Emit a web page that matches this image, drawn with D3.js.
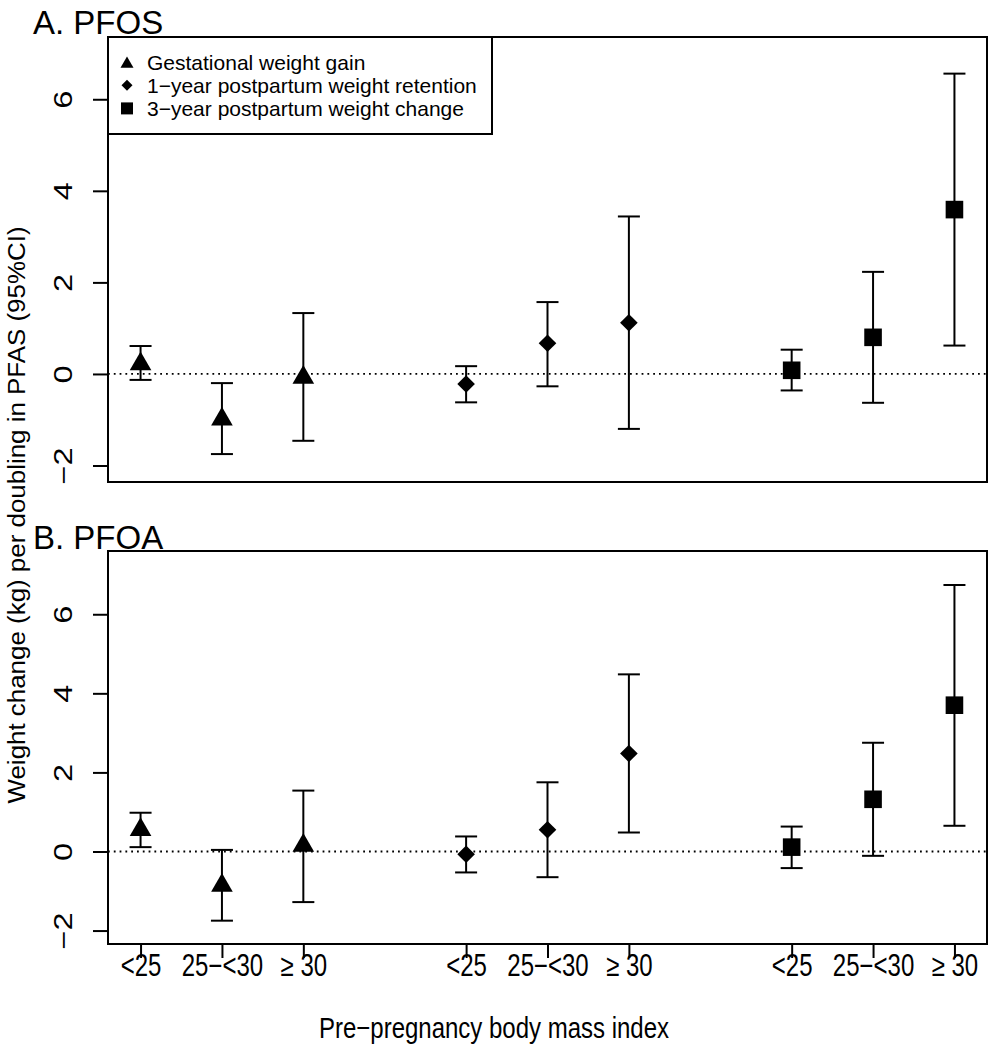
<!DOCTYPE html>
<html>
<head>
<meta charset="utf-8">
<script src="https://cdn.jsdelivr.net/npm/d3@7"></script>
<style>
  html, body { margin: 0; padding: 0; background: #fff; }
  svg { display: block; }
  text { font-family: "Liberation Sans", Arial, Helvetica, sans-serif; fill: #000; }
</style>
</head>
<body>
<svg id="chart" width="998" height="1050"></svg>
<script>
// ---------------- data ----------------
const categories = ["<25", "25\u2212<30", "\u2265 30"];
const outcomes = [
  "Gestational weight gain",
  "1\u2212year postpartum weight retention",
  "3\u2212year postpartum weight change"
];
const panelTitles = ["A. PFOS", "B. PFOA"];
const yTicks = [-2, 0, 2, 4, 6];

// order: outcome 1 (3 BMI groups), outcome 2 (3), outcome 3 (3)
const pfosEstimate = [0.22, -0.99, -0.08, -0.22, 0.67, 1.12, 0.08, 0.80, 3.59];
const pfosLower    = [-0.13, -1.75, -1.46, -0.62, -0.27, -1.20, -0.36, -0.63, 0.62];
const pfosUpper    = [0.61, -0.20, 1.33, 0.17, 1.57, 3.44, 0.53, 2.23, 6.56];

const pfoaEstimate = [0.55, -0.86, 0.15, -0.07, 0.55, 2.48, 0.11, 1.32, 3.70];
const pfoaLower    = [0.11, -1.75, -1.28, -0.53, -0.65, 0.48, -0.42, -0.11, 0.65];
const pfoaUpper    = [0.98, 0.04, 1.54, 0.38, 1.75, 4.48, 0.63, 2.75, 6.74];

const xLabel = "Pre\u2212pregnancy body mass index";
const yLabel = "Weight change (kg) per doubling in PFAS (95%CI)";

// ---------------- layout ----------------
const svg = d3.select("#chart");
const left = 108, right = 987;
const panels = [
  { title: panelTitles[0], est: pfosEstimate, lo: pfosLower, hi: pfosUpper,
    top: 37, bottom: 482, domain: [-2.36, 7.36], titleY: 34, legend: true, xAxis: false },
  { title: panelTitles[1], est: pfoaEstimate, lo: pfoaLower, hi: pfoaUpper,
    top: 551, bottom: 944, domain: [-2.34, 7.6], titleY: 549, legend: false, xAxis: true }
];

const x = d3.scaleLinear().domain([0.6, 11.4]).range([left, right]);
const xPos = (i) => Math.floor(i / 3) * 4 + (i % 3) + 1;
const fmt = d => d < 0 ? "\u2212" + Math.abs(d) : String(d);

function symbolPath(type, cx, cy, s) {
  if (type === 0) { // triangle (R pch 17 geometry)
    const r = s, h = 0.866 * r;
    return `M${cx},${cy - r}L${cx + h},${cy + r / 2}L${cx - h},${cy + r / 2}Z`;
  } else if (type === 1) { // diamond
    return `M${cx},${cy - s}L${cx + s},${cy}L${cx},${cy + s}L${cx - s},${cy}Z`;
  } else { // square
    return `M${cx - s},${cy - s}H${cx + s}V${cy + s}H${cx - s}Z`;
  }
}
const symSize = [12.5, 8.8, 8.8];
const legSize = [7.5, 5.5, 6];

panels.forEach((p) => {
  const y = d3.scaleLinear().domain(p.domain).range([p.bottom, p.top]);
  const g = svg.append("g");

  // reference line at 0
  g.append("line")
    .attr("x1", left).attr("x2", right)
    .attr("y1", y(0)).attr("y2", y(0))
    .attr("stroke", "#000").attr("stroke-width", 1.8)
    .attr("stroke-dasharray", "1.8,4");

  // y axis
  const yAxis = d3.axisLeft(y).tickValues(yTicks).tickSize(15).tickSizeOuter(0).tickFormat(fmt);
  const ya = g.append("g").attr("transform", `translate(${left},0)`).call(yAxis);
  ya.select(".domain").attr("stroke", "#000").attr("stroke-width", 2)
    .attr("d", `M0,${y(yTicks[0])}V${y(yTicks[yTicks.length - 1])}`);
  ya.selectAll(".tick line").attr("stroke", "#000").attr("stroke-width", 2);
  ya.selectAll(".tick text").remove();
  ya.selectAll(".tick").append("text")
    .attr("transform", "translate(-36,0) rotate(-90) scale(1.3,1)")
    .attr("text-anchor", "middle")
    .attr("font-size", 25)
    .text(fmt);

  // error bars
  const idx = d3.range(p.est.length);
  g.selectAll(".bar").data(idx).enter().append("line")
    .attr("x1", i => x(xPos(i))).attr("x2", i => x(xPos(i)))
    .attr("y1", i => y(p.lo[i])).attr("y2", i => y(p.hi[i]))
    .attr("stroke", "#000").attr("stroke-width", 2);
  [p.lo, p.hi].forEach(arr => {
    g.selectAll(null).data(idx).enter().append("line")
      .attr("x1", i => x(xPos(i)) - 11).attr("x2", i => x(xPos(i)) + 11)
      .attr("y1", i => y(arr[i])).attr("y2", i => y(arr[i]))
      .attr("stroke", "#000").attr("stroke-width", 2);
  });
  // points
  g.selectAll(".pt").data(idx).enter().append("path")
    .attr("d", i => symbolPath(Math.floor(i / 3), x(xPos(i)), y(p.est[i]), symSize[Math.floor(i / 3)]))
    .attr("fill", "#000");

  // frame
  g.append("rect")
    .attr("x", left).attr("y", p.top)
    .attr("width", right - left).attr("height", p.bottom - p.top)
    .attr("fill", "none").attr("stroke", "#000").attr("stroke-width", 2);

  // panel title
  svg.append("text").attr("x", 33).attr("y", p.titleY)
    .attr("font-size", 33).text(p.title);

  if (p.legend) {
    const lg = svg.append("g");
    lg.append("rect").attr("x", left).attr("y", p.top)
      .attr("width", 384).attr("height", 97)
      .attr("fill", "#fff").attr("stroke", "#000").attr("stroke-width", 2);
    outcomes.forEach((o, k) => {
      const cy = 62 + k * 23.2;
      lg.append("path").attr("d", symbolPath(k, 127, cy + (k === 0 ? 2 : 0), legSize[k])).attr("fill", "#000");
      lg.append("text").attr("x", 147).attr("y", cy + 7.5)
        .attr("font-size", 21).text(o);
    });
  }

  if (p.xAxis) {
    const xAxis = d3.axisBottom(x).tickValues(d3.range(9).map(xPos)).tickSize(14).tickSizeOuter(0)
      .tickFormat((d, i) => categories[i % 3]);
    const xa = g.append("g").attr("transform", `translate(0,${p.bottom})`).call(xAxis);
    xa.select(".domain").attr("stroke", "#000").attr("stroke-width", 2)
      .attr("d", `M${x(1)},0H${x(11)}`);
    xa.selectAll(".tick line").attr("stroke", "#000").attr("stroke-width", 2);
    xa.selectAll(".tick text").attr("font-size", 24).attr("dy", null).attr("y", null)
      .attr("transform", "translate(0,32) scale(1,1.28)");
  }
});

// axis titles
svg.append("text").attr("transform", "translate(494,1038) scale(1,1.25)")
  .attr("text-anchor", "middle").attr("font-size", 24).text(xLabel);
svg.append("text")
  .attr("transform", "translate(25,515) rotate(-90) scale(1.08,1)")
  .attr("text-anchor", "middle").attr("font-size", 24).text(yLabel);
</script>
</body>
</html>
